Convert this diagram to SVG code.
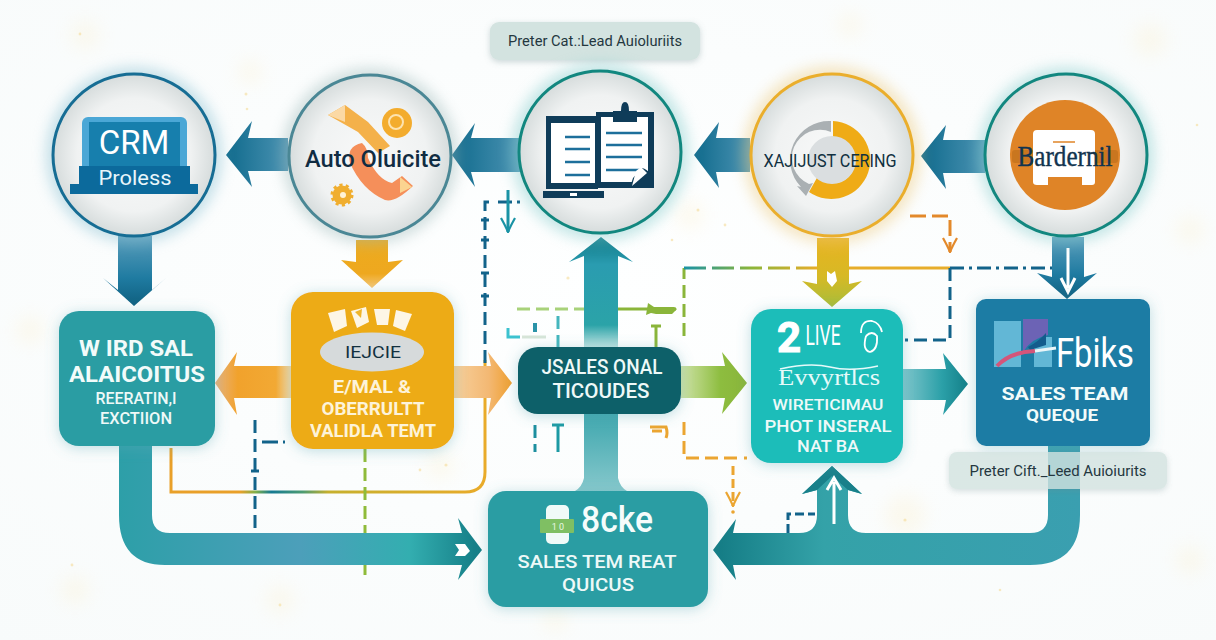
<svg xmlns="http://www.w3.org/2000/svg" width="1216" height="640" viewBox="0 0 1216 640">
<style>
text{font-family:Roboto,"Liberation Sans",Arial,sans-serif;text-anchor:middle}
.w{fill:#f2fbfa;font-weight:700}
.wn{fill:#eef9f8;font-weight:500}
.sv{font-family:"Liberation Serif","DejaVu Serif",serif}
.cir{fill:url(#disc);stroke-width:3}
.d{fill:none;stroke-width:3;stroke-dasharray:13 6}
.l{fill:none;stroke-width:3}
.lbl{fill:#d3e3e0;filter:url(#shadow)}
.rule{stroke:#1d6f9b;stroke-width:2.4;fill:none}
</style>
<defs>
<radialGradient id="disc" cx="50%" cy="50%" r="50%"><stop offset="0" stop-color="#f8f9f9"/><stop offset=".7" stop-color="#f0f2f2"/><stop offset="1" stop-color="#d6dcdc"/></radialGradient>
<radialGradient id="bg" cx="50%" cy="45%" r="75%"><stop offset="0" stop-color="#feffff"/><stop offset="1" stop-color="#f8fbfb"/></radialGradient>
<linearGradient id="blueL" x1="0" x2="1" y1="0" y2="0"><stop offset="0" stop-color="#0f6a8c"/><stop offset="1" stop-color="#4b93b3"/></linearGradient>
<linearGradient id="blueD" x1="0" x2="0" y1="0" y2="1"><stop offset="0" stop-color="#5a9dbb"/><stop offset=".6" stop-color="#1f7ba1"/><stop offset="1" stop-color="#0f5f7f"/></linearGradient>
<linearGradient id="orD" x1="0" x2="0" y1="0" y2="1"><stop offset="0" stop-color="#edab1e"/><stop offset=".7" stop-color="#eea81f"/><stop offset="1" stop-color="#f6c878"/></linearGradient>
<linearGradient id="oliv" x1="0" x2="0" y1="0" y2="1"><stop offset="0" stop-color="#e8b320"/><stop offset=".55" stop-color="#d7b925"/><stop offset="1" stop-color="#a8bd3a"/></linearGradient>
<linearGradient id="orL" x1="0" x2="1" y1="0" y2="0"><stop offset="0" stop-color="#e9b27e"/><stop offset=".3" stop-color="#f1a22c"/><stop offset=".8" stop-color="#f2a934"/><stop offset="1" stop-color="#f6d9a8"/></linearGradient>
<linearGradient id="orR" x1="0" x2="1" y1="0" y2="0"><stop offset="0" stop-color="#f7d09c"/><stop offset=".6" stop-color="#f3b873"/><stop offset="1" stop-color="#ef9f2e"/></linearGradient>
<linearGradient id="grn" x1="0" x2="1" y1="0" y2="0"><stop offset="0" stop-color="#d0e3a8"/><stop offset=".6" stop-color="#8dbd3f"/><stop offset="1" stop-color="#8ab53a"/></linearGradient>
<linearGradient id="tealR" x1="0" x2="1" y1="0" y2="0"><stop offset="0" stop-color="#7fc6cc"/><stop offset=".6" stop-color="#2ba0a8"/><stop offset="1" stop-color="#137f88"/></linearGradient>
<linearGradient id="up" x1="0" x2="0" y1="0" y2="1"><stop offset="0" stop-color="#0f7a87"/><stop offset=".25" stop-color="#2a9cb0"/><stop offset=".8" stop-color="#2ba3a8"/><stop offset="1" stop-color="#bfe3e2"/></linearGradient>
<linearGradient id="trunk" x1="0" x2="0" y1="0" y2="1"><stop offset="0" stop-color="#3fa7ae"/><stop offset="1" stop-color="#86c8cc"/></linearGradient>
<linearGradient id="bigL" gradientUnits="userSpaceOnUse" x1="119" y1="0" x2="482" y2="0"><stop offset="0" stop-color="#2d9fa8"/><stop offset=".5" stop-color="#4c9fba"/><stop offset=".8" stop-color="#33aeb0"/><stop offset="1" stop-color="#137b84"/></linearGradient>
<linearGradient id="bigR" gradientUnits="userSpaceOnUse" x1="713" y1="0" x2="1080" y2="0"><stop offset="0" stop-color="#137b84"/><stop offset=".3" stop-color="#34a2a8"/><stop offset="1" stop-color="#3a9fb0"/></linearGradient>
<linearGradient id="loop" gradientUnits="userSpaceOnUse" x1="171" y1="0" x2="485" y2="0"><stop offset="0" stop-color="#e9a029"/><stop offset=".22" stop-color="#e9a029"/><stop offset=".27" stop-color="#7fb04a"/><stop offset=".32" stop-color="#157a93"/><stop offset=".42" stop-color="#4d9c72"/><stop offset=".5" stop-color="#c6b02e"/><stop offset="1" stop-color="#e9ab2a"/></linearGradient>
<linearGradient id="hor" gradientUnits="userSpaceOnUse" x1="684" y1="0" x2="817" y2="0"><stop offset="0" stop-color="#1a93a5"/><stop offset=".5" stop-color="#8ab53a"/><stop offset="1" stop-color="#e7ad2a"/></linearGradient>
<linearGradient id="tg" x1="0" x2="0" y1="0" y2="1"><stop offset="0" stop-color="#19a2a8"/><stop offset=".4" stop-color="#8ab53a"/><stop offset=".7" stop-color="#49b98f"/><stop offset="1" stop-color="#3cc2cf"/></linearGradient>
<filter id="glow" x="-25%" y="-25%" width="150%" height="150%"><feGaussianBlur stdDeviation="7"/></filter>
<filter id="shadow" x="-15%" y="-25%" width="130%" height="160%"><feDropShadow dx="0" dy="2" stdDeviation="3" flood-color="#6f8f92" flood-opacity=".35"/></filter>
<filter id="nglow" x="-20%" y="-20%" width="140%" height="140%"><feDropShadow dx="0" dy="2" stdDeviation="7" flood-color="#5aa7b3" flood-opacity=".38"/></filter>
<filter id="sp" x="-50%" y="-50%" width="200%" height="200%"><feGaussianBlur stdDeviation="9"/></filter>
<marker id="open" viewBox="0 0 16 16" refX="15" refY="8" markerWidth="16" markerHeight="16" orient="auto" markerUnits="userSpaceOnUse"><path d="M1 1Q10 6 15 8Q10 10 1 15" fill="none" stroke="context-stroke" stroke-width="2.2"/></marker>
</defs>

<rect width="1216" height="640" fill="url(#bg)"/>
<g id="speckle" fill="#fbe9b8" opacity=".22" filter="url(#sp)">
<circle cx="85" cy="35" r="14"/><circle cx="250" cy="72" r="12"/><circle cx="30" cy="330" r="14"/><circle cx="75" cy="590" r="14"/><circle cx="280" cy="600" r="14"/><circle cx="555" cy="620" r="12"/><circle cx="905" cy="515" r="20"/><circle cx="1190" cy="230" r="14"/><circle cx="1150" cy="40" r="16"/><circle cx="850" cy="25" r="12"/><circle cx="440" cy="465" r="14"/><circle cx="690" cy="215" r="14"/><circle cx="1190" cy="560" r="14"/>
</g>
<g id="dots" fill="#f5dc9a" opacity=".6">
<circle cx="246" cy="94" r="1.5"/><circle cx="247" cy="109" r="1.3"/><circle cx="80" cy="34" r="1.4"/><circle cx="420" cy="470" r="1.4"/><circle cx="446" cy="465" r="1.6"/><circle cx="905" cy="520" r="1.6"/><circle cx="920" cy="535" r="1.3"/><circle cx="888" cy="545" r="1.3"/><circle cx="725" cy="225" r="1.4"/><circle cx="698" cy="210" r="1.5"/><circle cx="1197" cy="125" r="1.3"/><circle cx="1000" cy="590" r="1.3"/><circle cx="72" cy="565" r="1.4"/><circle cx="280" cy="605" r="1.4"/><circle cx="568" cy="278" r="1.6"/><circle cx="672" cy="240" r="1.3"/>
</g>

<g id="connectors">
<path class="l" stroke="url(#loop)" d="M171 448V492H465Q485 492 485 472V360"/>
<path class="d" stroke="#12638a" d="M485 382V202H494"/>
<path stroke="#12638a" stroke-width="3" d="M481 220H489M481 240H489M481 273H489M481 296H489"/>
<path class="d" stroke="#12638a" d="M255 420V533"/>
<path stroke="#12638a" stroke-width="3" d="M251 471H259"/>
<path class="l" stroke="#12638a" stroke-dasharray="16 5 2 5" d="M262 442H289"/>
<path class="d" stroke="#8fbb3a" d="M365 449V575"/>
<path class="d" stroke="url(#tg)" d="M508 240V330"/>
<path class="l" stroke="#3cc2cf" d="M508 328V337H520"/>
<path class="l" stroke="#d7e5d8" d="M522 337H546"/>
<path class="l" stroke="#12638a" stroke-dasharray="14 5 3 5" d="M498 202H525"/>
<path class="l" stroke="#1a93a5" d="M508 190V232" marker-end="url(#open)"/>
<path class="d" stroke="#a8d27a" d="M517 309H584" stroke-dasharray="9 6"/>
<path class="l" stroke="#8ab53a" d="M618 309H676"/>
<path fill="#8ab53a" d="M648 303L654 307H674L677 309L672 314H656L651 313L646 315Z"/>
<path class="l" stroke="#8ab53a" d="M656 347V326M651 326H661"/>
<path fill="#2a93a8" d="M533 323H537V332H533Z"/>
<path class="d" stroke="#45b6bd" d="M558 316V347" stroke-dasharray="10 5"/>
<path class="d" stroke="#8ab53a" d="M684 336V268" stroke-dasharray="13 6"/>
<path class="l" stroke="url(#hor)" stroke-dasharray="22 6" d="M684 268H817"/>
<path class="l" stroke="#e7ad2a" d="M817 268H950"/>
<path class="l" stroke="#12638a" stroke-dasharray="14 5 3 5" d="M950 268H1052"/>
<path class="l" stroke="#e3892b" stroke-dasharray="16 6" d="M910 216H950V252" marker-end="url(#open)"/>
<path class="d" stroke="#12638a" d="M950 268V340H905" stroke-dasharray="13 5"/>
<path class="d" stroke="#1d8f9f" d="M535 425V452" stroke-dasharray="7 4"/>
<path class="l" stroke="#1d9aa4" d="M558 452V425M552 425H564"/>
<path class="l" stroke="#eba531" d="M650 427H666Q668 433 666 438"/>
<path class="l" stroke="#eba531" stroke-width="4" d="M652 431H662"/>
<path class="d" stroke="#eba531" d="M684 422V458H725" stroke-dasharray="15 7"/>
<path class="l" stroke="#eba531" stroke-dasharray="12 7 3 7" d="M725 458H748"/>
<path class="l" stroke="#eba531" stroke-dasharray="9 4" d="M733 466V506" marker-end="url(#open)"/>
<circle cx="733" cy="512" r="1.8" fill="#eba531"/>
<path class="l" stroke="#12638a" stroke-dasharray="9 4" d="M788 533V514H815"/>

<path id="c-crm-wird" fill="url(#blueD)" d="M118 236H152V290L166 278L134 306L103 278L118 290Z"/>
<path id="c-auto-email" fill="url(#orD)" d="M356 240H388V262L403 260L372 288L341 260L356 262Z"/>
<path id="c-auto-crm" fill="url(#blueL)" d="M288 138H248L252 121L226 155L252 187L248 171H288Z"/>
<path id="c-doc-auto" fill="url(#blueL)" d="M520 138H471L475 123L452 155L475 187L471 172H520Z"/>
<path id="c-yellow-doc" fill="url(#blueL)" d="M750 138H716L719 122L694 155L719 188L716 172H750Z"/>
<path id="c-bard-yellow" fill="url(#blueL)" d="M985 140H943L946 125L921 156L946 189L943 173H985Z"/>
<path id="c-yellow-live" fill="url(#oliv)" d="M817 238H849V284L862 281L832 307L802 281L817 284Z"/>
<path fill="#fff" d="M827 271L831 274L835 271L837 281L832 287L827 281Z"/>
<path id="c-bard-flbks" fill="url(#blueD)" d="M1052 237H1084V277L1097 273L1067 299L1037 273L1052 277Z"/>
<path id="c-trunk" fill="url(#trunk)" d="M584 414H618V478Q620 487 627 491H575Q582 487 584 478Z"/>
<path id="c-up" fill="url(#up)" d="M584 347V256L569 262L601 237L633 262L618 256V347Z"/>
<path id="c-email-left" fill="url(#orL)" d="M291 366H234L237 352L215 383L237 415L234 398H291Z"/>
<path id="c-email-right" fill="url(#orR)" d="M454 366H491L488 352L512 383L488 415L491 398H454Z"/>
<path id="c-sales-live" fill="url(#grn)" d="M681 366H725L722 352L747 383L722 414L725 398H681Z"/>
<path id="c-live-flbks" fill="url(#tealR)" d="M903 369H946L943 353L968 384L943 415L946 400H903Z"/>
<path id="c-wird-bottom" fill="url(#bigL)" d="M119 446H152V515Q152 533 170 533H462L458 518L482 550L458 580L462 565H165Q119 565 119 515Z"/>
<path fill="#fff" d="M455 544H465L470 551L465 556H455L459 550Z"/>
<path id="c-flbks-bottom" fill="url(#bigR)" d="M1048 446H1080V515Q1080 565 1030 565H733L736 580L713 550L736 519L733 533H1030Q1048 533 1048 515Z"/>
<path id="c-bottom-live" fill="url(#bigR)" d="M799 533Q817 533 817 515V490L802 494L832 466L862 494L848 490V515Q848 533 866 533V545H799Z"/>
<path fill="#19808a" d="M817 490L802 494L832 466L862 494L848 490L832 476Z"/>
<path class="l" stroke="#fff" stroke-width="2.5" d="M834 524V482M827 490L834 478L841 490"/>
<path class="l" stroke="#fff" stroke-width="2.5" d="M1068 248V288M1061 278L1068 292L1075 278"/>
</g>

<g id="label-top"><rect class="lbl" x="490" y="22" width="210" height="38" rx="9"/><text x="595" y="46" font-size="15" fill="#24373f" textLength="174" lengthAdjust="spacingAndGlyphs">Preter Cat.:Lead Auioluriits</text></g>

<g id="node-crm">
<circle cx="134" cy="155" r="88" fill="#8fc3d4" opacity=".5" filter="url(#glow)"/>
<circle class="cir" cx="134" cy="155" r="81" stroke="#166d94"/>
<rect x="82" y="117" width="105" height="56" rx="6" fill="#4ba7d6"/>
<rect x="89" y="122" width="91" height="50" fill="#177fad"/>
<path d="M79 166H190V184H198V194H70V184H79Z" fill="#0c6a9c"/>
<text x="134" y="154" font-size="33" fill="#fff">CRM</text>
<text x="135" y="185" font-size="21" fill="#e9f5fa" textLength="73" lengthAdjust="spacingAndGlyphs">Proless</text>
</g>

<g id="node-auto">
<circle cx="370" cy="156" r="88" fill="#9cb8b8" opacity=".45" filter="url(#glow)"/>
<circle class="cir" cx="370" cy="156" r="81" stroke="#4a8795"/>
<path d="M328 115L345 105L368 122L390 146L378 153L358 132Z" fill="#f4b14a"/>
<path d="M362 143Q346 146 350 163Q362 190 385 200Q395 203 413 186L402 176L392 183Q378 180 368 158Q368 148 362 143Z" fill="#f58f5a"/>
<path d="M400 177L412 187L400 193Z" fill="#fbd490"/><path d="M328 115L345 105L345 122Z" fill="#fbd9a5"/>
<circle cx="397" cy="123" r="15" fill="#f3ac2e"/><circle cx="396" cy="122" r="7" fill="none" stroke="#fde3b0" stroke-width="2"/>
<circle cx="342" cy="195" r="9.5" fill="#f0ae2f" stroke="#f0ae2f" stroke-width="4" stroke-dasharray="3 3"/><circle cx="343" cy="195" r="3" fill="#fff3d5"/>
<text x="373" y="167" font-size="23" font-weight="500" fill="#102c42" textLength="136" lengthAdjust="spacingAndGlyphs">Auto Oluicite</text>
</g>

<g id="node-doc">
<circle cx="600" cy="152" r="89" fill="#8ccfcf" opacity=".5" filter="url(#glow)"/>
<circle class="cir" cx="600" cy="152" r="81" stroke="#12877f"/>
<rect x="546" y="116" width="52" height="73" fill="#0f3c59"/><rect x="551" y="123" width="44" height="60" fill="#fff"/>
<rect x="543" y="191" width="61" height="7" fill="#0f3c59"/><rect x="570" y="193" width="7" height="3" fill="#fff"/>
<path class="rule" d="M565 137H590M565 149H590M565 162H590M565 175H590"/>
<rect x="596" y="112" width="58" height="76" fill="#0f3c59"/><rect x="601" y="117" width="47" height="65" fill="#fff"/>
<path d="M613 111H621Q621 102 625 102Q629 102 629 111H637V122H613Z" fill="#0f3c59"/>
<path class="rule" d="M606 133H642M606 145H642M606 157H642M606 170H642"/>
<path d="M633 178L642 168Q652 170 654 186H640L630 187Z" fill="#0f3c59"/>
<path d="M632 186L636 171L641 167L647 173Z" fill="#fff"/>
</g>

<g id="node-yellow">
<circle cx="832" cy="155" r="89" fill="#ecc97d" opacity=".45" filter="url(#glow)"/>
<circle class="cir" cx="832" cy="155" r="81" stroke="#eaae2c"/>
<path d="M833 121A39 39 0 1 1 809 192L818 176A21 21 0 1 0 833 141Z" fill="#efab16"/>
<path d="M831 121A39 39 0 0 0 801 187L797 186L806 196L813 183L809 184A28 28 0 0 1 831 132Z" fill="#aab0b3"/>
<circle cx="832" cy="160" r="24" fill="#dadee0"/>
<text x="830" y="167" font-size="19" fill="#10303f" textLength="133" lengthAdjust="spacingAndGlyphs">XAJIJUST CERING</text>
</g>

<g id="node-bard">
<circle cx="1066" cy="155" r="88" fill="#8ccfcf" opacity=".5" filter="url(#glow)"/>
<circle class="cir" cx="1066" cy="155" r="81" stroke="#12877f"/>
<circle cx="1065" cy="155" r="55" fill="#df8427"/>
<rect x="1012" y="150" width="106" height="13" rx="3" fill="#c9761f"/>
<path d="M1037 130H1091Q1095 130 1095 134V182Q1095 185 1092 185H1082V177H1048V185H1037Q1033 185 1033 182V134Q1033 130 1037 130Z" fill="#fff"/>
<path d="M1053 142H1075" stroke="#df8427" stroke-width="1.5"/>
<text class="sv" x="1065" y="166" font-size="30" fill="#12344f" stroke="#12344f" stroke-width=".4" textLength="95" lengthAdjust="spacingAndGlyphs">Bardernil</text>
</g>

<g id="node-wird">
<rect x="59" y="311" width="156" height="135" rx="20" fill="#2b9da3" filter="url(#nglow)"/>
<text class="w" x="136" y="356" font-size="22" textLength="114" lengthAdjust="spacingAndGlyphs">W IRD SAL</text>
<text class="w" x="137" y="382" font-size="22" textLength="136" lengthAdjust="spacingAndGlyphs">ALAICOITUS</text>
<text class="wn" x="136" y="404" font-size="16" textLength="81" lengthAdjust="spacingAndGlyphs">REERATIN,I</text>
<text class="wn" x="136" y="424" font-size="16" textLength="72" lengthAdjust="spacingAndGlyphs">EXCTIION</text>
</g>

<g id="node-email">
<rect x="291" y="292" width="163" height="157" rx="22" fill="#edab14" filter="url(#nglow)"/>
<g fill="#fdf6e6">
<path d="M328 313L345 309L347 326L334 332Z"/><path d="M351 311L366 307L369 322L357 328Z"/><path d="M374 309H390L388 325H377Z"/><path d="M396 310L412 314L405 331L393 326Z"/>
</g>
<path d="M355 312L362 309L361 318Z" fill="#efb52c"/>
<ellipse cx="372" cy="352" rx="52" ry="19.5" fill="#d6dadb"/>
<text x="373" y="358" font-size="16" fill="#12303f" textLength="56" lengthAdjust="spacingAndGlyphs">IEJCIE</text>
<text x="372" y="393" font-size="18" font-weight="700" fill="#fdf3d9" textLength="78" lengthAdjust="spacingAndGlyphs">E/MAL &amp;</text>
<text x="373" y="415" font-size="18" font-weight="700" fill="#fdf3d9" textLength="103" lengthAdjust="spacingAndGlyphs">OBERRULTT</text>
<text x="373" y="437" font-size="18" font-weight="700" fill="#fdf3d9" textLength="126" lengthAdjust="spacingAndGlyphs">VALIDLA TEMT</text>
</g>

<g id="node-sales">
<rect x="518" y="347" width="163" height="67" rx="20" fill="#0d6069" filter="url(#nglow)"/>
<text class="wn" x="602" y="374" font-size="20" textLength="121" lengthAdjust="spacingAndGlyphs">JSALES ONAL</text>
<text class="wn" x="601" y="398" font-size="20" textLength="97" lengthAdjust="spacingAndGlyphs">TICOUDES</text>
</g>

<g id="node-live">
<rect x="751" y="309" width="152" height="154" rx="20" fill="#1fbdb9" filter="url(#nglow)"/>
<text x="789" y="352" font-size="42" font-weight="700" fill="#fff" stroke="#fff" stroke-width="1">2</text>
<text x="823" y="345" font-size="27" fill="#fff" textLength="35" lengthAdjust="spacingAndGlyphs">LIVE</text>
<path d="M861 333Q861 320 872 321Q880 323 882 332M866 336Q862 350 870 352Q878 350 877 336Q872 330 866 336" fill="none" stroke="#fff" stroke-width="1.8"/>
<path d="M780 369Q810 362 830 367T878 366" fill="none" stroke="#e6fafa" stroke-width="1.5"/>
<text class="sv" x="829" y="385" font-size="24" fill="#e6fafa" textLength="102" lengthAdjust="spacingAndGlyphs">Evvyrtlcs</text>
<text class="wn" x="828" y="410" font-size="15" textLength="111" lengthAdjust="spacingAndGlyphs">WIRETICIMAU</text>
<text class="wn" x="828" y="432" font-size="17" textLength="127" lengthAdjust="spacingAndGlyphs">PHOT INSERAL</text>
<text class="wn" x="828" y="452" font-size="17" textLength="62" lengthAdjust="spacingAndGlyphs">NAT BA</text>
</g>

<g id="node-flbks">
<rect x="976" y="299" width="174" height="147" rx="10" fill="#1a7ba4" filter="url(#nglow)"/>
<rect x="994" y="321" width="27" height="46" fill="#62b7d6"/>
<path d="M1023 319H1048V335Q1032 338 1023 352Z" fill="#6c63b5"/>
<path d="M1034 345L1046 337H1052V367H1034Z" fill="#62b7d6"/>
<path d="M1028 347Q1038 342 1046 333V345L1030 350Z" fill="#135c8c"/>
<path d="M997 366Q1010 352 1035 351" fill="none" stroke="#d4557a" stroke-width="4"/>
<path d="M1035 351L1056 348" stroke="#eaf5f8" stroke-width="3"/>
<text x="1095" y="367" font-size="40" fill="#fff" textLength="78" lengthAdjust="spacingAndGlyphs">Fbiks</text>
<text class="w" x="1065" y="400" font-size="19" textLength="127" lengthAdjust="spacingAndGlyphs">SALES TEAM</text>
<text class="w" x="1062" y="421" font-size="17" textLength="72" lengthAdjust="spacingAndGlyphs">QUEQUE</text>
</g>

<g id="label-lower"><rect x="949" y="452" width="218" height="37" rx="8" fill="#d3e3e0" opacity=".8" filter="url(#shadow)"/><text x="1058" y="476" font-size="14.5" fill="#24373f" textLength="177" lengthAdjust="spacingAndGlyphs">Preter Cift._Leed Auioiurits</text></g>

<g id="node-bottom">
<rect x="488" y="491" width="220" height="116" rx="18" fill="#2b9da3" filter="url(#nglow)"/>
<rect x="546" y="505" width="23" height="39" rx="5" fill="#f0faf8"/>
<rect x="540" y="519" width="34" height="14" rx="1" fill="#7fbf63"/>
<text x="558" y="530" font-size="9" fill="#e9f8e3">1 0</text>
<text x="617" y="532" font-size="36" font-weight="500" fill="#f5fcfb" textLength="72" lengthAdjust="spacingAndGlyphs">8cke</text>
<text class="wn" x="597" y="568" font-size="19" textLength="159" lengthAdjust="spacingAndGlyphs">SALES TEM REAT</text>
<text class="wn" x="598" y="591" font-size="19" textLength="72" lengthAdjust="spacingAndGlyphs">QUICUS</text>
</g>
</svg>
